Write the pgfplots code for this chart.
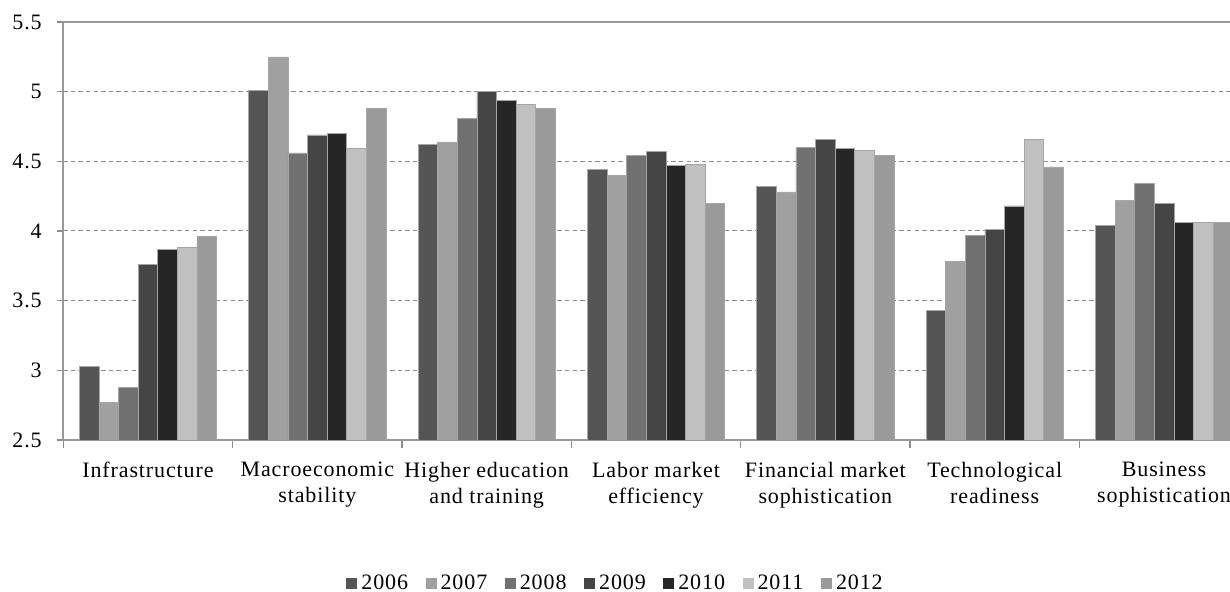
\documentclass[border=0pt]{standalone}
\usepackage{fontspec}
\setmainfont{Liberation Serif}
\usepackage{pgfplots}
\pgfplotsset{compat=1.18}
\definecolor{c06}{HTML}{555555}
\definecolor{c07}{HTML}{A0A0A0}
\definecolor{c08}{HTML}{717171}
\definecolor{c09}{HTML}{454545}
\definecolor{c10}{HTML}{262626}
\definecolor{c11}{HTML}{C0C0C0}
\definecolor{c12}{HTML}{9A9A9A}
\newcommand{\lf}{\fontsize{11}{13}\selectfont\addfontfeatures{LetterSpace=4}}
\begin{document}
\begin{tikzpicture}
\begin{axis}[
  at={(31.65pt,76pt)}, anchor=south west,
  scale only axis, width=592.7pt, height=209pt,
  ybar=0pt, bar width=9.8pt,
  xmin=-0.5, xmax=6.5, ymin=2.5, ymax=5.5, enlargelimits=false,
  xtick={0,...,6},
  xticklabels={Infrastructure, Macroeconomic\\stability, Higher education\\and training, Labor market\\efficiency, Financial market\\sophistication, Technological\\readiness, Business\\sophistication},
  minor xtick={-0.5,0.5,...,6.5},
  ytick={2.5,3,...,5.5},
  xtick pos=bottom, ytick pos=left,
  tick align=outside,
  major tick length=3pt, minor tick length=4pt,
  major x tick style={draw=none},
  minor x tick style={draw=black!45, line width=0.6pt},
  major y tick style={draw=black!45, line width=0.6pt},
  axis line style={draw=black!40, line width=0.8pt},
  ymajorgrids, grid style={draw=black!45, dash pattern=on 2.2pt off 1.6pt, line width=0.5pt},
  /pgf/number format/assume math mode=true,
  tick label style={font=\lf},
  xticklabel style={align=center, yshift=-4.5pt},
  yticklabel style={xshift=-4.3pt},
  every axis plot/.append style={draw=black!35, line width=0.3pt},
  legend columns=7,
  legend style={draw=none, fill=none, at={(0.4667,-0.344)}, anchor=center,
    font=\lf,
    /tikz/every even column/.append style={column sep=6.8pt}},
  legend image code/.code={\path[#1,draw=none] (0pt,-2.75pt) rectangle (5.5pt,2.75pt);},
]
\addplot[fill=c06] coordinates {(0,3.03) (1,5.01) (2,4.62) (3,4.44) (4,4.32) (5,3.43) (6,4.04)};
\addplot[fill=c07] coordinates {(0,2.77) (1,5.25) (2,4.64) (3,4.40) (4,4.28) (5,3.78) (6,4.22)};
\addplot[fill=c08] coordinates {(0,2.88) (1,4.56) (2,4.81) (3,4.54) (4,4.60) (5,3.97) (6,4.34)};
\addplot[fill=c09] coordinates {(0,3.76) (1,4.69) (2,5.00) (3,4.57) (4,4.66) (5,4.01) (6,4.20)};
\addplot[fill=c10] coordinates {(0,3.87) (1,4.70) (2,4.94) (3,4.47) (4,4.59) (5,4.18) (6,4.06)};
\addplot[fill=c11] coordinates {(0,3.88) (1,4.59) (2,4.91) (3,4.48) (4,4.58) (5,4.66) (6,4.06)};
\addplot[fill=c12] coordinates {(0,3.96) (1,4.88) (2,4.88) (3,4.20) (4,4.54) (5,4.46) (6,4.06)};
\legend{2006,2007,2008,2009,2010,2011,2012}
\end{axis}
\pgfresetboundingbox
\useasboundingbox (0,0) rectangle (615pt,296pt);
\end{tikzpicture}
\end{document}
